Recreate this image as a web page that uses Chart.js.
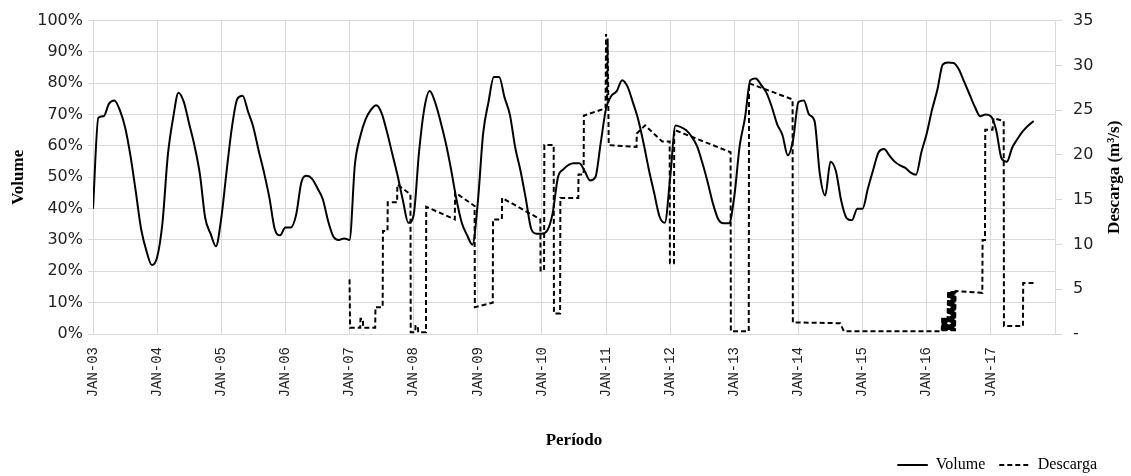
<!DOCTYPE html>
<html>
<head>
<meta charset="utf-8">
<script src="https://cdn.jsdelivr.net/npm/chart.js@4.4.1/dist/chart.umd.min.js"></script>
<style>
  body { margin: 0; background: #fff; }
  #wrap { width: 1131px; height: 476px; }
</style>
</head>
<body>
<div id="wrap"><canvas id="myChart" width="1131" height="476"></canvas></div>
<script>
// Volume (%) - um valor por mes, a partir de JAN-03
var volume = [
    40, 69, 69.5, 73.5, 74.5, 71.5, 66, 57, 45.5, 33.5, 26.5, 22,      // 2003
    24.5, 35.5, 57, 69, 77, 74, 67, 60, 51, 37, 32, 28,                // 2004
    37, 52, 66, 75, 76, 71, 66, 58.5, 51.5, 43.5, 33.5, 31.5,          // 2005
    34, 34, 38, 48.5, 50.5, 49.5, 46.5, 43, 36, 31, 30, 30.5,          // 2006
    30, 54, 63, 68.5, 71.5, 73, 70.5, 64.5, 57.5, 50.5, 42.5, 35.5,    // 2007
    38, 58, 72, 77.5, 74, 68, 61, 52.5, 43, 35.5, 31.5, 28.5,          // 2008
    42, 64, 74, 82, 82, 75.5, 70, 59.5, 52, 43, 33.5, 32,              // 2009
    32, 33, 38.5, 50, 52.5, 54, 54.5, 54.5, 52, 49, 50, 61,            // 2010
    72, 76, 77.5, 81, 79, 74, 68.5, 61, 52.5, 45, 37.5, 35.5,          // 2011
    50, 66.5, 66, 65, 63, 60, 54.7, 48.5, 41.6, 36.6, 35.3, 35.3,      // 2012
    44, 60, 69, 81, 81.5, 79.5, 77, 72.5, 67, 63.5, 57, 62,            // 2013
    74, 74.5, 70, 68, 51, 44.2, 55, 52, 42.5, 37, 36.3, 40,            // 2014
    40, 46.5, 52.5, 58, 59, 57, 55, 53.8, 53, 51.5, 50.8, 58,          // 2015
    64, 71.6, 78, 86, 86.6, 86.5, 84.5, 80.5, 76.5, 72.5, 69.5, 70,    // 2016
    69.5, 65, 56, 55, 59.5, 62.3, 64.7, 66.5, 68                       // 2017
];

// Descarga (m3/s) - mes (desde JAN-03) e valor
var descargaMes = [
    48.0, 48.1, 50.0, 50.05, 50.5, 50.55, 52.8, 52.85, 54.2, 54.25, 55.1, 55.15, 56.9, 56.95, 59.4, 59.45,
    60.3, 60.35, 60.8, 60.85, 62.3, 62.35, 67.7, 67.75, 71.4, 71.45, 74.8, 74.85, 76.5, 76.55, 83.7, 83.75,
    84.4, 84.45, 86.2, 86.25, 87.4, 87.45, 90.8, 90.85, 91.8, 91.85, 95.9, 96.0, 96.2, 96.3, 96.5,
    101.7, 101.75, 103.3, 106.5, 107.9, 107.95, 108.7, 108.75, 119.3, 119.35, 122.7, 122.75, 130.9, 130.95,
    139.8, 140.5, 158.8,
    158.9, 159.0, 159.1, 159.2, 159.3, 159.4, 159.5, 159.6, 159.7, 159.8, 159.9, 160.0,
    160.1, 160.2, 160.3, 160.4, 160.5, 160.6, 160.7, 160.8, 160.9, 161.0, 161.1, 161.2, 161.3, 161.4,
    166.4, 166.45, 166.9, 166.95, 168.3, 168.5, 170.4, 170.45, 174.0, 174.05, 176.0
];
var descargaVal = [
    6.1, 0.7, 0.7, 1.7, 1.7, 0.7, 0.7, 3.0, 3.0, 11.5, 11.5, 14.7, 14.7, 16.7, 15.6, 0.2,
    0.2, 0.9, 0.9, 0.2, 0.2, 14.2, 12.8, 15.8, 14.3, 3.0, 3.5, 12.8, 12.8, 15.2, 12.8, 7.1,
    7.1, 21.1, 21.1, 2.3, 2.3, 15.2, 15.2, 17.8, 17.8, 24.4, 25.2, 33.5, 26.0, 33.0, 21.1,
    20.9, 22.4, 23.3, 21.5, 21.5, 7.9, 7.9, 22.8, 20.3, 0.3, 0.3, 28.0, 26.2, 1.3,
    1.2, 0.3, 0.3,
    1.8, 0.3, 1.8, 0.3, 1.8, 0.3, 1.8, 0.3, 1.8, 0.3, 1.8, 4.8,
    0.3, 4.8, 0.3, 4.8, 0.3, 4.8, 0.3, 4.8, 0.3, 4.8, 0.3, 4.8, 0.3, 4.8,
    4.6, 10.5, 10.5, 22.8, 22.8, 24.1, 23.8, 0.9, 0.9, 5.7, 5.7
];

var anoInicial = 3;
var volumeTicks = [0, 10, 20, 30, 40, 50, 60, 70, 80, 90, 100];
var descargaTicks = [0, 5, 10, 15, 20, 25, 30, 35];

var volumeData = volume.map(function (v, i) { return { x: i, y: v }; });
var descargaData = descargaMes.map(function (m, i) { return { x: m, y: descargaVal[i] }; });

var gridColor = '#d9d9d9';
var serif = "'Liberation Serif', 'Times New Roman', serif";

// titulo do eixo direito (lido de baixo para cima)
var tituloDireita = {
    id: 'tituloDireita',
    afterDraw: function (chart) {
        var c = chart.ctx;
        c.save();
        c.translate(1115, (chart.chartArea.top + chart.chartArea.bottom) / 2);
        c.rotate(-Math.PI / 2);
        c.font = 'bold 17px ' + serif;
        c.fillStyle = '#000';
        c.textAlign = 'center';
        c.textBaseline = 'middle';
        c.fillText('Descarga (m\u00b3/s)', 0, 0);
        c.restore();
    }
};

Chart.defaults.font.family = "'DejaVu Sans', sans-serif";
Chart.defaults.color = '#222';

var ctx = document.getElementById('myChart').getContext('2d');
var myChart = new Chart(ctx, {
    type: 'line',
    data: {
        datasets: [
            {
                label: 'Volume',
                data: volumeData,
                borderColor: '#000',
                backgroundColor: '#000',
                borderWidth: 2,
                pointRadius: 0,
                cubicInterpolationMode: 'monotone',
                fill: false,
                yAxisID: 'y'
            },
            {
                label: 'Descarga',
                data: descargaData,
                borderColor: '#000',
                backgroundColor: '#000',
                borderWidth: 2,
                borderDash: [5, 3],
                pointRadius: 0,
                tension: 0,
                fill: false,
                yAxisID: 'y1'
            }
        ]
    },
    options: {
        responsive: false,
        animation: false,
        layout: { padding: { top: 18, right: 20, bottom: -7, left: 0 } },
        plugins: {
            tooltip: { enabled: false },
            legend: {
                position: 'bottom',
                align: 'end',
                labels: {
                    // largura escolhida para o tracejado de ida e volta coincidir
                    boxWidth: 30.5,
                    boxHeight: 0,
                    padding: 14,
                    color: '#000',
                    font: { family: serif, size: 16 }
                }
            }
        },
        scales: {
            x: {
                type: 'linear',
                min: 0,
                max: 180,
                afterFit: function (s) { s.height = 109; },
                grid: { color: gridColor, drawTicks: false },
                border: { color: gridColor },
                ticks: {
                    stepSize: 12,
                    autoSkip: false,
                    includeBounds: false,
                    minRotation: 90,
                    maxRotation: 90,
                    padding: 13,
                    font: { family: "'Liberation Mono', monospace", size: 14 },
                    callback: function (v) {
                        if (v % 12 !== 0 || v >= 180) return '';
                        var a = anoInicial + v / 12;
                        return 'JAN-' + (a < 10 ? '0' + a : a);
                    }
                },
                title: {
                    display: true,
                    text: 'Período',
                    color: '#000',
                    font: { family: serif, size: 17, weight: 'bold' },
                    padding: { top: 0, bottom: -8 }
                }
            },
            y: {
                position: 'left',
                min: 0,
                max: 100,
                afterFit: function (s) { s.width = 93; },
                afterBuildTicks: function (s) { s.ticks = volumeTicks.map(function (v) { return { value: v }; }); },
                grid: { color: gridColor, tickLength: 5 },
                border: { color: gridColor },
                ticks: {
                    padding: 5,
                    font: { size: 16 },
                    callback: function (v) { return v + '%'; }
                },
                title: {
                    display: true,
                    text: 'Volume',
                    color: '#000',
                    font: { family: serif, size: 17, weight: 'bold' },
                    padding: { top: 8, bottom: 0 }
                }
            },
            y1: {
                position: 'right',
                min: 0,
                max: 35,
                afterFit: function (s) { s.width = 56; },
                afterBuildTicks: function (s) { s.ticks = descargaTicks.map(function (v) { return { value: v }; }); },
                grid: { color: gridColor, tickLength: 7, drawOnChartArea: false },
                border: { color: gridColor },
                ticks: {
                    padding: 11,
                    font: { size: 16 },
                    callback: function (v) { return v === 0 ? '-' : v; }
                }
            }
        }
    },
    plugins: [tituloDireita]
});
</script>
</body>
</html>
